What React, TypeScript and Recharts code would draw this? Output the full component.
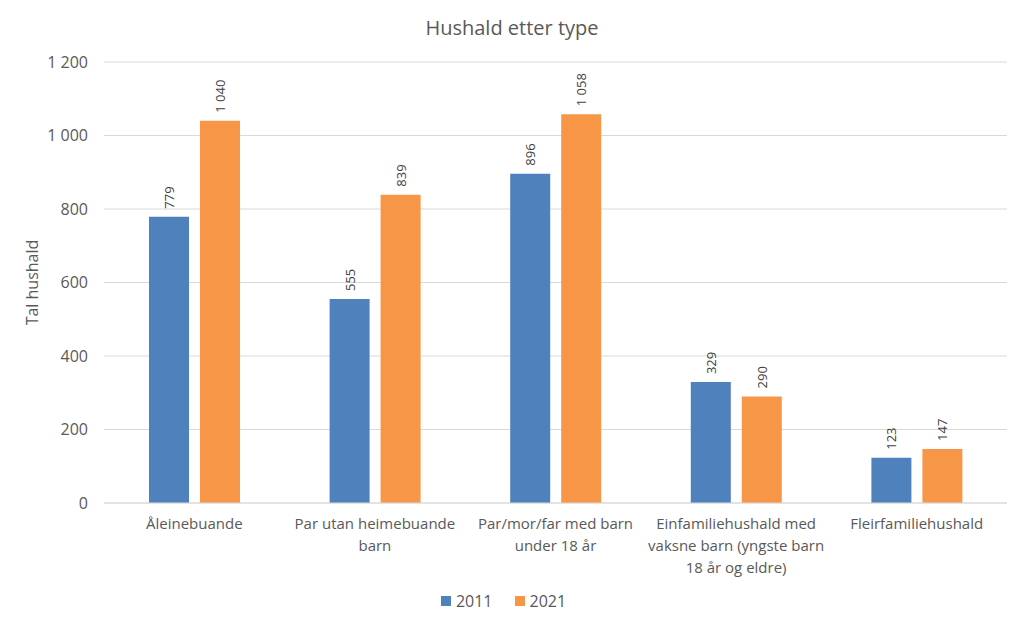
import { BarChart, Bar, XAxis, YAxis, CartesianGrid, Legend, LabelList, Label } from 'recharts'

const categories = [
  'Åleinebuande',
  'Par utan heimebuande\nbarn',
  'Par/mor/far med barn\nunder 18 år',
  'Einfamiliehushald med\nvaksne barn (yngste barn\n18 år og eldre)',
  'Fleirfamiliehushald',
]
const values2011 = [779, 555, 896, 329, 123]
const values2021 = [1040, 839, 1058, 290, 147]
const yTicks = [0, 200, 400, 600, 800, 1000, 1200]

const data = categories.map((name, i) => ({
  name,
  y2011: values2011[i],
  y2021: values2021[i],
}))

const FONT = '"Open Sans", "Liberation Sans", sans-serif'
const TEXT = '#595959'

const fmt = (v: number) => String(v).replace(/\B(?=(\d{3})+(?!\d))/g, ' ')

function CategoryTick({ x, y, payload }: any) {
  const lines = String(payload.value).split('\n')
  return (
    <text x={x} y={y} textAnchor="middle" fill={TEXT} fontSize={15} fontFamily={FONT}>
      {lines.map((l, i) => (
        <tspan key={i} x={x} y={y + 18 + i * 22}>{l}</tspan>
      ))}
    </text>
  )
}

function BarValue({ x, y, width, value }: any) {
  const cx = x + width / 2
  const cy = y - 8
  return (
    <text
      x={cx}
      y={cy}
      transform={`rotate(-90, ${cx}, ${cy})`}
      textAnchor="start"
      dominantBaseline="central"
      fill="#404040"
      fontSize={13}
      fontFamily={FONT}
    >
      {fmt(value)}
    </text>
  )
}

function LegendBox() {
  const items = [
    { label: '2011', color: '#4F81BD' },
    { label: '2021', color: '#F79646' },
  ]
  return (
    <div style={{ height: 30, display: 'flex', justifyContent: 'center', alignItems: 'center', gap: 22, fontFamily: FONT, fontSize: 16, color: TEXT }}>
      {items.map((it) => (
        <span key={it.label} style={{ display: 'flex', alignItems: 'center', gap: 5 }}>
          <span style={{ width: 10, height: 10, background: it.color, display: 'inline-block' }} />
          {it.label}
        </span>
      ))}
    </div>
  )
}

export default function App() {
  return (
    <div style={{ position: 'absolute', left: 0, top: 0, width: 1024, height: 626, background: '#fff' }}>
      <div style={{ position: 'absolute', top: 14, width: 1024, textAlign: 'center', fontFamily: FONT, fontSize: 20, color: TEXT }}>
        Hushald etter type
      </div>
      <BarChart
        width={1024}
        height={626}
        data={data}
        margin={{ top: 62, right: 17, bottom: 0, left: 0 }}
        barGap={11}
        barSize={40}
      >
        <CartesianGrid vertical={false} stroke="#D9D9D9" />
        <XAxis
          dataKey="name"
          height={93}
          interval={0}
          axisLine={{ stroke: '#D9D9D9' }}
          tickLine={false}
          tick={<CategoryTick />}
        />
        <YAxis
          width={104}
          domain={[0, 1200]}
          ticks={yTicks}
          axisLine={false}
          tickLine={false}
          tickSize={6}
          tickMargin={10}
          tickFormatter={fmt}
          tick={{ fill: TEXT, fontSize: 16, fontFamily: FONT }}
        >
          <Label
            content={({ viewBox }: any) => {
              const cx = viewBox.x + 32
              const cy = viewBox.y + viewBox.height / 2
              return (
                <text x={cx} y={cy} transform={`rotate(-90, ${cx}, ${cy})`} textAnchor="middle" dominantBaseline="central" fill={TEXT} fontSize={16} fontFamily={FONT}>
                  Tal hushald
                </text>
              )
            }}
          />
        </YAxis>
        <Legend verticalAlign="bottom" content={<LegendBox />} wrapperStyle={{ bottom: 10 }} />
        <Bar dataKey="y2011" name="2011" fill="#4F81BD" isAnimationActive={false}>
          <LabelList dataKey="y2011" content={<BarValue />} />
        </Bar>
        <Bar dataKey="y2021" name="2021" fill="#F79646" isAnimationActive={false}>
          <LabelList dataKey="y2021" content={<BarValue />} />
        </Bar>
      </BarChart>
    </div>
  )
}
